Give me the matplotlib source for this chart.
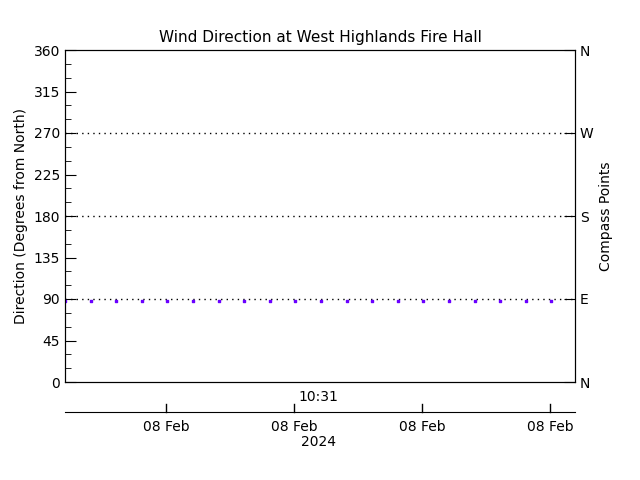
import matplotlib
matplotlib.use("Agg")
import matplotlib.pyplot as plt
import numpy as np

times = list(range(20))
direction = [88]*20
xticks = [3.95, 8.95, 13.95, 18.95]
xticklabels = ["08 Feb"]*4
compass_pos = [0, 90, 180, 270, 360]
compass_lab = ["N", "E", "S", "W", "N"]

fig = plt.figure(figsize=(6.4, 4.8), dpi=100)
ax = fig.add_axes([65/640, 1-382/480, 510/640, 332/480])
ax.scatter(times, direction, s=3, color="#6a00ff", marker="s", zorder=3)
for v in [90, 180, 270]:
    ax.axhline(v, color="black", ls=(0, (1, 3)), lw=1)
ax.set_xlim(0, 19.92)
ax.set_ylim(0, 360)
ax.set_yticks(range(0, 361, 45))
ax.set_yticks(range(0, 361, 15), minor=True)
ax.tick_params(axis="y", which="major", length=8, direction="in", labelsize=10)
ax.tick_params(axis="y", which="minor", length=4, direction="in")
ax.set_xticks([])
ax.set_ylabel("Direction (Degrees from North)", fontsize=10)
ax.set_title("Wind Direction at West Highlands Fire Hall", fontsize=11)
ax2 = ax.twinx()
ax2.set_ylim(0, 360)
ax2.set_yticks(compass_pos)
ax2.set_yticklabels(compass_lab)
ax2.tick_params(axis="y", length=8, direction="in", labelsize=10)
ax2.set_ylabel("Compass Points", fontsize=10)

axb = fig.add_axes([65/640, 1-412/480, 510/640, 0.001])
axb.set_xlim(0, 19.92)
for s in ["left", "right", "top"]:
    axb.spines[s].set_visible(False)
axb.set_yticks([])
axb.set_xticks(xticks)
axb.set_xticklabels(xticklabels, fontsize=10)
axb.tick_params(axis="x", direction="out", length=0, pad=6)
for t in xticks:
    axb.plot([t, t], [0, 1], transform=axb.get_xaxis_transform(), clip_on=False, color="black", lw=1)
    axb.annotate("", xy=(t, 0), xytext=(0, 0), textcoords="offset points")
fig.text(318/640, 1-397/480, "10:31", ha="center", va="center", fontsize=10)
fig.text(318/640, 1-442/480, "2024", ha="center", va="center", fontsize=10)
# tick marks on bottom axis (upward 8px)
for t in xticks:
    x = 65/640 + t/19.92*510/640
    fig.add_artist(plt.Line2D([x, x], [1-412/480, 1-404/480], color="black", lw=1))
fig.savefig("out.png")
